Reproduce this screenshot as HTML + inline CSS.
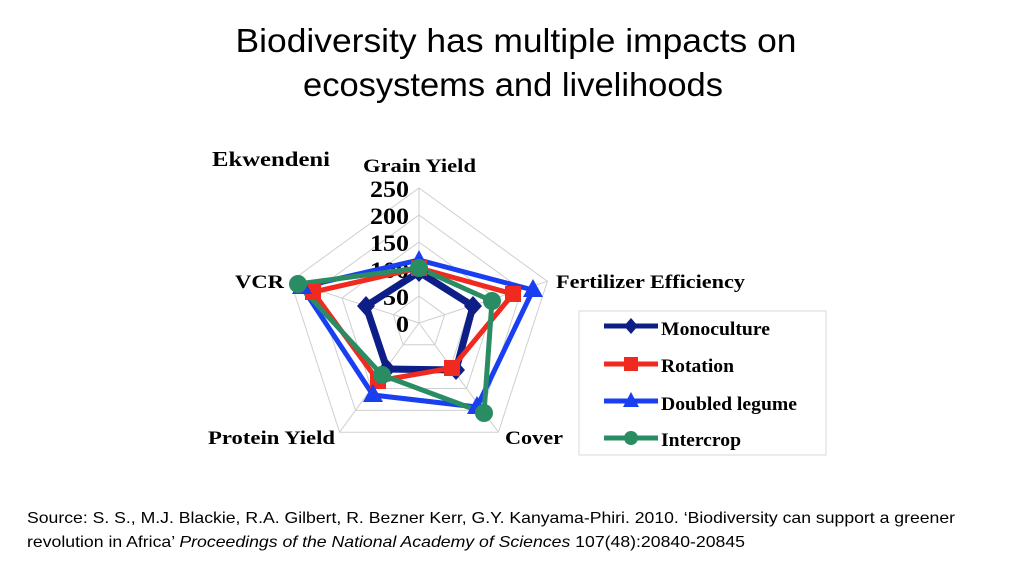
<!DOCTYPE html>
<html><head><meta charset="utf-8"><style>html,body{margin:0;padding:0;background:#fff;width:1024px;height:576px;overflow:hidden}</style></head>
<body>
<svg width="1024" height="576" viewBox="0 0 1024 576" xmlns="http://www.w3.org/2000/svg">
<g font-family="Liberation Sans, sans-serif" fill="#000">
<text x="516" y="52" font-size="33" text-anchor="middle" textLength="561" lengthAdjust="spacingAndGlyphs">Biodiversity has multiple impacts on</text>
<text x="513" y="96" font-size="33" text-anchor="middle" textLength="420" lengthAdjust="spacingAndGlyphs">ecosystems and livelihoods</text>
<text x="27" y="523" font-size="16" textLength="928" lengthAdjust="spacingAndGlyphs">Source:  S. S., M.J. Blackie, R.A. Gilbert, R. Bezner Kerr, G.Y. Kanyama-Phiri. 2010. ‘Biodiversity can support a greener</text>
<text x="27" y="547" font-size="16" textLength="718" lengthAdjust="spacingAndGlyphs">revolution in Africa’ <tspan font-style="italic">Proceedings of the National Academy of Sciences</tspan> 107(48):20840-20845</text>
</g>
<!-- grid -->
<g fill="none" stroke="#cfcfcf" stroke-width="1">
<polygon points="419,188 547.4,281.3 498.4,432.2 339.6,432.2 290.6,281.3"/>
<polygon points="419,215 521.7,289.6 482.5,410.4 355.5,410.4 316.3,289.6"/>
<polygon points="419,242 496.0,298.0 466.6,388.5 371.4,388.5 342.0,298.0"/>
<polygon points="419,269 470.4,306.3 450.7,366.7 387.3,366.7 367.6,306.3"/>
<polygon points="419,296 444.7,314.7 434.9,344.8 403.1,344.8 393.3,314.7"/>
<line x1="419" y1="323" x2="419" y2="188"/><line x1="419" y1="323" x2="547.4" y2="281.3"/><line x1="419" y1="323" x2="498.4" y2="432.2"/><line x1="419" y1="323" x2="339.6" y2="432.2"/><line x1="419" y1="323" x2="290.6" y2="281.3"/>
</g>
<g font-family="Liberation Serif, serif" font-weight="bold" fill="#000">
<g font-size="23" text-anchor="end">
<text x="409" y="197" textLength="39" lengthAdjust="spacingAndGlyphs">250</text><text x="409" y="224" textLength="39" lengthAdjust="spacingAndGlyphs">200</text><text x="409" y="251" textLength="39" lengthAdjust="spacingAndGlyphs">150</text><text x="409" y="278" textLength="39" lengthAdjust="spacingAndGlyphs">100</text><text x="409" y="305" textLength="26" lengthAdjust="spacingAndGlyphs">50</text><text x="409" y="332" textLength="13" lengthAdjust="spacingAndGlyphs">0</text>
</g>
<text x="212" y="166" font-size="21" textLength="118" lengthAdjust="spacingAndGlyphs">Ekwendeni</text>
<text x="363" y="172" font-size="19" textLength="113" lengthAdjust="spacingAndGlyphs">Grain Yield</text>
<text x="556" y="288" font-size="19" textLength="189" lengthAdjust="spacingAndGlyphs">Fertilizer Efficiency</text>
<text x="235" y="288" font-size="19" textLength="49" lengthAdjust="spacingAndGlyphs">VCR</text>
<text x="208" y="444" font-size="19" textLength="127" lengthAdjust="spacingAndGlyphs">Protein Yield</text>
<text x="505" y="444" font-size="19" textLength="58" lengthAdjust="spacingAndGlyphs">Cover</text>
</g>
<!-- series -->
<g fill="none" stroke-width="5" stroke-linejoin="miter">
<polygon stroke="#0d1f86" stroke-width="7" points="419,272 473,306 456,370 387,369 366,306"/>
<polygon stroke="#f02a1e" points="419,268 513,294 452,368 378,381 313,292"/>
<polygon stroke="#1a3ff0" points="419,260 533,290 477,407 373,395 302,287"/>
<polygon stroke="#2a8c63" points="419,268 492,301 484,413 382,375 298,284"/>
</g>
<g fill="#0d1f86">
<polygon points="419,262 428,272 419,282 410,272"/><polygon points="473,296 482,306 473,316 464,306"/><polygon points="456,360 465,370 456,380 447,370"/><polygon points="387,359 396,369 387,379 378,369"/><polygon points="366,296 375,306 366,316 357,306"/>
</g>
<g fill="#f02a1e">
<rect x="411" y="260" width="16" height="16"/><rect x="505" y="286" width="16" height="16"/><rect x="444" y="360" width="16" height="16"/><rect x="370" y="373" width="16" height="16"/><rect x="305" y="284" width="16" height="16"/>
</g>
<g fill="#1a3ff0">
<polygon points="419,250 428,267 410,267"/><polygon points="533,279 543,297 523,297"/><polygon points="477,396 487,414 467,414"/><polygon points="373,384 383,402 363,402"/><polygon points="302,276 312,294 292,294"/>
</g>
<g fill="#2a8c63">
<circle cx="419" cy="268" r="9"/><circle cx="492" cy="301" r="9"/><circle cx="484" cy="413" r="9"/><circle cx="382" cy="375" r="9"/><circle cx="298" cy="284" r="9"/>
</g>
<!-- legend -->
<rect x="579" y="311" width="247" height="144" fill="#fff" stroke="#d8d8d8"/>
<g stroke-width="5">
<line x1="604" y1="326" x2="658" y2="326" stroke="#0d1f86"/><line x1="604" y1="364" x2="658" y2="364" stroke="#f02a1e"/><line x1="604" y1="401" x2="658" y2="401" stroke="#1a3ff0"/><line x1="604" y1="438" x2="658" y2="438" stroke="#2a8c63"/>
</g>
<polygon points="631,318 638,326 631,334 624,326" fill="#0d1f86"/>
<rect x="624" y="357" width="14" height="14" fill="#f02a1e"/>
<polygon points="631,392 639,407 623,407" fill="#1a3ff0"/>
<circle cx="631" cy="438" r="7" fill="#2a8c63"/>
<g font-family="Liberation Serif, serif" font-weight="bold" font-size="19" fill="#000">
<text x="661" y="335" textLength="109" lengthAdjust="spacingAndGlyphs">Monoculture</text><text x="661" y="372" textLength="73" lengthAdjust="spacingAndGlyphs">Rotation</text><text x="661" y="410" textLength="136" lengthAdjust="spacingAndGlyphs">Doubled legume</text><text x="661" y="446" textLength="80" lengthAdjust="spacingAndGlyphs">Intercrop</text>
</g>
</svg>
</body></html>
